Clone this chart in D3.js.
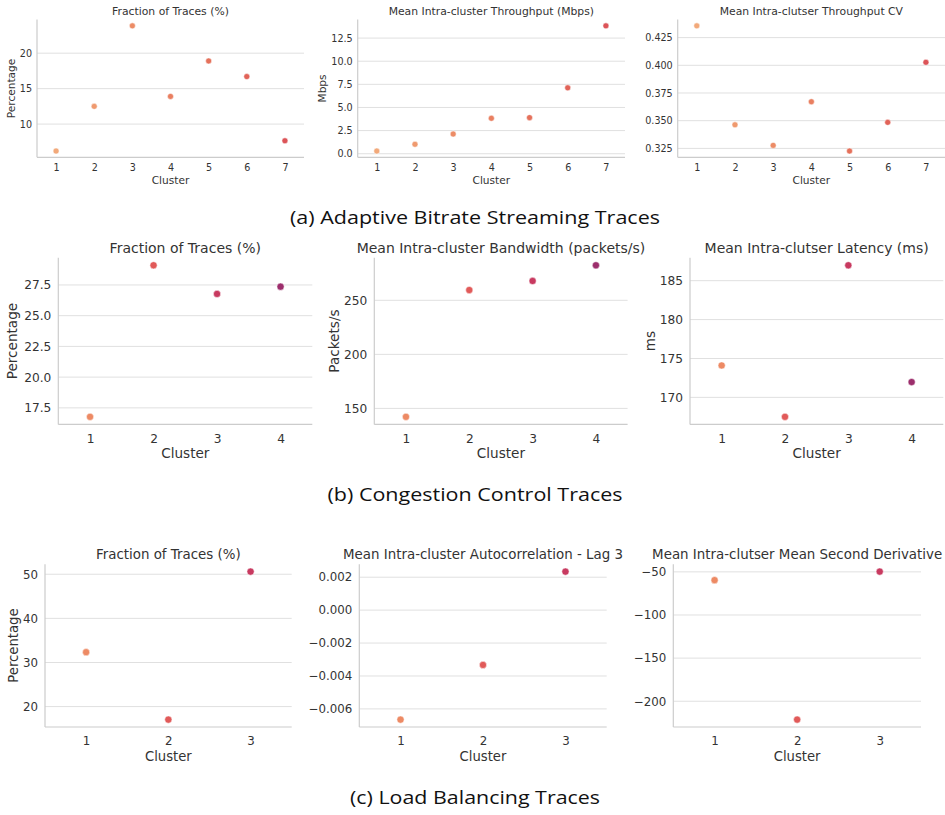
<!DOCTYPE html>
<meta charset="utf-8">
<style>
body { margin: 0; background: #fff; }
.grid line { stroke: #e0e0e0; stroke-width: 1px; }
.spine { stroke: #cccccc; stroke-width: 1.2px; }
text { fill: #333; font-family: "DejaVu Sans", sans-serif; }
.caption { font-family: "Open Sans", Lato, sans-serif; fill: #111; font-variant-ligatures: none; }
</style>
<body>
<script src="https://d3js.org/d3.v7.min.js"></script>
<script>

// ---- data ----
// (a) adaptive bitrate streaming
var abrClusters = [1, 2, 3, 4, 5, 6, 7];
var abrFraction = [6.2, 12.5, 23.85, 13.9, 18.9, 16.7, 7.65];
var abrThroughput = [0.29, 1.02, 2.13, 3.83, 3.9, 7.12, 13.82];
var abrThroughputCV = [0.4356, 0.3463, 0.3277, 0.3671, 0.3226, 0.3485, 0.4027];
var abrColors = ["#f2a97a", "#ef9a6f", "#ec8c66", "#e97f60", "#e5715b", "#e16358", "#dc5458"];
var abrFractionTicks = [10, 15, 20];
var abrThroughputTicks = [0, 2.5, 5, 7.5, 10, 12.5];
var abrCVTicks = [0.325, 0.35, 0.375, 0.4, 0.425];

// (b) congestion control
var ccClusters = [1, 2, 3, 4];
var ccFraction = [16.77, 29.1, 26.77, 27.36];
var ccBandwidth = [142.2, 259.5, 267.9, 282.4];
var ccLatency = [174.1, 167.5, 186.98, 171.97];
var ccColors = ["#ed8a64", "#e15a59", "#c83a60", "#9c2e6c"];
var ccFractionTicks = [17.5, 20, 22.5, 25, 27.5];
var ccBandwidthTicks = [150, 200, 250];
var ccLatencyTicks = [170, 175, 180, 185];

// (c) load balancing
var lbClusters = [1, 2, 3];
var lbFraction = [32.33, 17.05, 50.6];
var lbAutocorr = [-0.00665, -0.00333, 0.00234];
var lbSecondDeriv = [-59.6, -221.3, -49.7];
var lbColors = ["#ed8a64", "#e15a59", "#c83a60"];
var lbFractionTicks = [20, 30, 40, 50];
var lbAutocorrTicks = [-0.006, -0.004, -0.002, 0, 0.002];
var lbSecondDerivTicks = [-200, -150, -100, -50];

var captions = ["(a) Adaptive Bitrate Streaming Traces", "(b) Congestion Control Traces", "(c) Load Balancing Traces"];

var svg = d3.select("body").append("svg")
    .attr("width", 945)
    .attr("height", 815);

// draws one seaborn-like strip/scatter panel
function panel(p) {
  var g = svg.append("g");

  var x = d3.scalePoint()
      .domain(p.clusters)
      .range([p.x0, p.x1])
      .padding(0.5);

  // 5% margins like matplotlib autoscale
  var ext = d3.extent(p.values);
  var m = (ext[1] - ext[0]) * 0.05;
  var y = d3.scaleLinear()
      .domain([ext[0] - m, ext[1] + m])
      .range([p.bottom, p.top]);

  // grid
  g.append("g").attr("class", "grid")
    .selectAll("line").data(p.ticks).enter().append("line")
      .attr("x1", p.x0).attr("x2", p.x1)
      .attr("y1", function(d) { return y(d); })
      .attr("y2", function(d) { return y(d); });

  // y tick labels
  var yAxis = g.append("g")
      .attr("transform", "translate(" + p.x0 + ",0)")
      .call(d3.axisLeft(y).tickValues(p.ticks).tickFormat(d3.format(p.fmt))
        .tickSize(0).tickPadding(p.pad));
  yAxis.select(".domain").remove();
  yAxis.selectAll("text").style("font-size", p.tickSize + "px")
      .style("font-family", "DejaVu Sans").attr("fill", "#333");

  // x tick labels
  var xAxis = g.append("g")
      .attr("transform", "translate(0," + p.bottom + ")")
      .call(d3.axisBottom(x).tickSize(0).tickPadding(p.xpad));
  xAxis.select(".domain").remove();
  xAxis.selectAll("text").style("font-size", p.tickSize + "px")
      .style("font-family", "DejaVu Sans").attr("fill", "#333");

  // spines
  g.append("line").attr("class", "spine")
      .attr("x1", p.x0).attr("x2", p.x0).attr("y1", p.top).attr("y2", p.bottom);
  g.append("line").attr("class", "spine")
      .attr("x1", p.x0).attr("x2", p.x1).attr("y1", p.bottom).attr("y2", p.bottom);

  // points
  g.selectAll("circle").data(p.values).enter().append("circle")
      .attr("cx", function(d, i) { return x(p.clusters[i]); })
      .attr("cy", function(d) { return y(d); })
      .attr("r", p.r)
      .attr("fill", function(d, i) { return p.colors[i]; })
      .attr("stroke", "#fff")
      .attr("stroke-width", 0.5);

  // title
  g.append("text")
      .attr("x", (p.x0 + p.x1) / 2)
      .attr("y", p.titleY)
      .attr("text-anchor", "middle")
      .style("font-size", p.titleSize + "px")
      .text(p.title);

  // x label
  g.append("text")
      .attr("x", (p.x0 + p.x1) / 2)
      .attr("y", p.xlabY)
      .attr("text-anchor", "middle")
      .style("font-size", p.labSize + "px")
      .text("Cluster");

  // y label
  if (p.ylabel) {
    g.append("text")
        .attr("transform", "translate(" + p.ylabX + "," + ((p.top + p.bottom) / 2) + ") rotate(-90)")
        .attr("text-anchor", "middle")
        .style("font-size", p.labSize + "px")
        .text(p.ylabel);
  }
}

// row (a)
var rowA = {top: 19.6, bottom: 157.3, titleY: 15, xlabY: 184, xpad: 7, pad: 5,
            tickSize: 9.6, titleSize: 10.8, labSize: 10.6, r: 3, clusters: abrClusters, colors: abrColors};
panel(Object.assign({}, rowA, {x0: 37, x1: 304, values: abrFraction, ticks: abrFractionTicks, fmt: "d",
  title: "Fraction of Traces (%)", ylabel: "Percentage", ylabX: 15}));
panel(Object.assign({}, rowA, {x0: 357.7, x1: 625, values: abrThroughput, ticks: abrThroughputTicks, fmt: ".1f",
  title: "Mean Intra-cluster Throughput (Mbps)", ylabel: "Mbps", ylabX: 325.5}));
panel(Object.assign({}, rowA, {x0: 677.7, x1: 945, values: abrThroughputCV, ticks: abrCVTicks, fmt: ".3f",
  title: "Mean Intra-clutser Throughput CV"}));

// row (b)
var rowB = {top: 257.7, bottom: 424.4, titleY: 253, xlabY: 458, xpad: 10, pad: 7,
            tickSize: 12.2, titleSize: 14, labSize: 13.6, r: 3.6, clusters: ccClusters, colors: ccColors};
panel(Object.assign({}, rowB, {x0: 58.3, x1: 312.3, values: ccFraction, ticks: ccFractionTicks, fmt: ".1f",
  title: "Fraction of Traces (%)", ylabel: "Percentage", ylabX: 17}));
panel(Object.assign({}, rowB, {x0: 374.3, x1: 627.6, values: ccBandwidth, ticks: ccBandwidthTicks, fmt: "d",
  title: "Mean Intra-cluster Bandwidth (packets/s)", ylabel: "Packets/s", ylabX: 338.5}));
panel(Object.assign({}, rowB, {x0: 690, x1: 943.3, values: ccLatency, ticks: ccLatencyTicks, fmt: "d",
  title: "Mean Intra-clutser Latency (ms)", ylabel: "ms", ylabX: 654.5}));

// row (c)
var rowC = {top: 564.2, bottom: 727, titleY: 559, xlabY: 761, xpad: 10, pad: 7,
            tickSize: 11.8, titleSize: 13.4, labSize: 13.2, r: 3.6, clusters: lbClusters, colors: lbColors};
panel(Object.assign({}, rowC, {x0: 45, x1: 291.7, values: lbFraction, ticks: lbFractionTicks, fmt: "d",
  title: "Fraction of Traces (%)", ylabel: "Percentage", ylabX: 17.5}));
panel(Object.assign({}, rowC, {x0: 359.3, x1: 606.7, values: lbAutocorr, ticks: lbAutocorrTicks, fmt: ".3f",
  title: "Mean Intra-cluster Autocorrelation - Lag 3"}));
panel(Object.assign({}, rowC, {x0: 673.3, x1: 921, values: lbSecondDeriv, ticks: lbSecondDerivTicks, fmt: "d",
  title: "Mean Intra-clutser Mean Second Derivative"}));

// sub-figure captions
var capY = [224, 500.5, 804];
var capW = [370, 295, 250];
svg.selectAll(".caption").data(captions).enter().append("text")
    .attr("class", "caption")
    .attr("x", 475)
    .attr("y", function(d, i) { return capY[i]; })
    .attr("text-anchor", "middle")
    .attr("textLength", function(d, i) { return capW[i]; })
    .attr("lengthAdjust", "spacingAndGlyphs")
    .style("font-size", "19px")
    .text(function(d) { return d; });

</script>
</body>
